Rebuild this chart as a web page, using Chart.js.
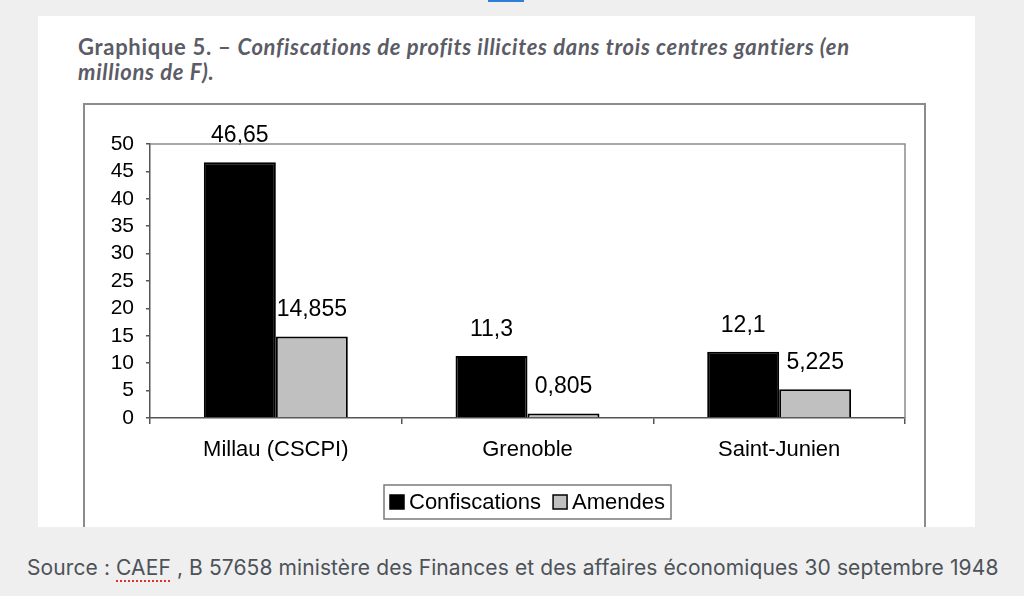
<!DOCTYPE html>
<html lang="fr">
<head>
<meta charset="utf-8">
<title>Graphique 5</title>
<script src="https://cdn.jsdelivr.net/npm/chart.js@4.4.1/dist/chart.umd.min.js"></script>
<style>
    html, body {
        margin: 0;
        padding: 0;
    }
    body {
        width: 1024px;
        height: 596px;
        background: #efefef;
        position: relative;
        overflow: hidden;
    }
    .top-mark {
        position: absolute;
        left: 488px;
        top: 0;
        width: 36px;
        height: 2px;
        background: #2f7fd8;
    }
    .card {
        position: absolute;
        left: 38px;
        top: 16px;
        width: 937px;
        height: 511px;
        background: #fff;
        overflow: hidden;
    }
    .title {
        position: absolute;
        left: 40px;
        top: 18px;
        font-family: Lato, "Open Sans", sans-serif;
        font-weight: bold;
        font-size: 22px;
        letter-spacing: 0.7px;
        line-height: 25px;
        color: #5b5c66;
        white-space: nowrap;
    }
    .title em {
        font-style: italic;
    }
    .chart-box {
        position: absolute;
        left: 45px;
        top: 87px;
        width: 839px;
        height: 460px;
        border: 2px solid #8c8c8c;
    }
    .chart-box canvas {
        display: block;
    }
    .source {
        position: absolute;
        left: 27px;
        top: 555px;
        font-family: Inter, "Noto Sans", sans-serif;
        font-size: 21px;
        letter-spacing: 0.1px;
        color: #4d5259;
        white-space: nowrap;
    }
    .source .spell {
        text-decoration: underline dotted #e0302a;
        text-decoration-thickness: 2px;
        text-underline-offset: 5px;
    }
</style>
</head>
<body>
<div class="top-mark"></div>
<div class="card">
    <div class="title">Graphique 5. – <em>Confiscations de profits illicites dans trois centres gantiers (en<br>millions de F).</em></div>
    <div class="chart-box">
        <canvas class="my-chart" width="839" height="422"></canvas>
    </div>
</div>
<div class="source">Source : <span class="spell">CAEF</span> , B 57658 ministère des Finances et des affaires économiques 30 septembre 1948</div>

<script>
const myChart = document.querySelector('.my-chart');

const categories = ['Millau (CSCPI)', 'Grenoble', 'Saint-Junien'];
const confiscations = [46.65, 11.3, 12.1];
const amendes = [14.855, 0.805, 5.225];
const yTicks = [0, 5, 10, 15, 20, 25, 30, 35, 40, 45, 50];

const chartFont = '"Liberation Sans", Arial, sans-serif';

function frNumber(v) {
    return String(v).replace('.', ',');
}

// top and right edge of the plot area
const plotFrame = {
    id: 'plotFrame',
    afterDraw(chart) {
        const { ctx, chartArea: a } = chart;
        ctx.save();
        ctx.strokeStyle = '#8c8c8c';
        ctx.lineWidth = 1.5;
        ctx.beginPath();
        ctx.moveTo(a.left, a.top);
        ctx.lineTo(a.right, a.top);
        ctx.lineTo(a.right, a.bottom);
        ctx.stroke();
        ctx.restore();
    }
};

// value above every bar, french decimal comma
const valueLabels = {
    id: 'valueLabels',
    afterDatasetsDraw(chart) {
        const ctx = chart.ctx;
        ctx.save();
        ctx.font = '23px ' + chartFont;
        ctx.fillStyle = '#000';
        ctx.textAlign = 'center';
        ctx.textBaseline = 'bottom';
        chart.data.datasets.forEach((ds, i) => {
            chart.getDatasetMeta(i).data.forEach((bar, j) => {
                ctx.fillText(frNumber(ds.data[j]), bar.x, bar.y - 15);
            });
        });
        ctx.restore();
    }
};

// boxed legend under the category labels
const boxLegend = {
    id: 'boxLegend',
    afterDraw(chart) {
        const { ctx, chartArea: a } = chart;
        const sets = chart.data.datasets;
        ctx.save();
        ctx.font = '22px ' + chartFont;
        const sq = 14, gap = 5, sep = 12, padX = 6;
        let w = padX * 2;
        sets.forEach((ds, i) => {
            w += sq + gap + ctx.measureText(ds.label).width;
            if (i < sets.length - 1) w += sep;
        });
        const h = 34;
        const x0 = Math.round((a.left + a.right) / 2 - w / 2);
        const y0 = 380;
        ctx.strokeStyle = '#7a7a7a';
        ctx.lineWidth = 1.5;
        ctx.strokeRect(x0, y0, w, h);
        let x = x0 + padX;
        const cy = y0 + h / 2;
        ctx.textBaseline = 'middle';
        sets.forEach((ds) => {
            ctx.fillStyle = ds.backgroundColor;
            ctx.fillRect(x, cy - sq / 2, sq, sq);
            ctx.strokeStyle = '#000';
            ctx.lineWidth = 1.5;
            ctx.strokeRect(x, cy - sq / 2, sq, sq);
            x += sq + gap;
            ctx.fillStyle = '#000';
            ctx.fillText(ds.label, x, cy + 1);
            x += ctx.measureText(ds.label).width + sep;
        });
        ctx.restore();
    }
};

new Chart(myChart, {
    type: 'bar',
    data: {
        labels: categories,
        datasets: [{
            label: 'Confiscations',
            data: confiscations,
            backgroundColor: '#000000',
            borderColor: '#000000',
            borderWidth: 2
        }, {
            label: 'Amendes',
            data: amendes,
            backgroundColor: '#c0c0c0',
            borderColor: '#000000',
            borderWidth: 2
        }]
    },
    options: {
        responsive: false,
        animation: false,
        categoryPercentage: 0.572,
        barPercentage: 1.0,
        layout: {
            padding: { left: 0, top: 39, right: 19, bottom: 0 }
        },
        plugins: {
            legend: { display: false },
            tooltip: { enabled: false }
        },
        scales: {
            x: {
                afterFit(scale) { scale.height = 109; },
                grid: {
                    drawOnChartArea: false,
                    tickLength: 6,
                    color: '#555',
                    lineWidth: 1.5
                },
                border: { color: '#555', width: 1.5 },
                ticks: {
                    padding: 13,
                    color: '#000',
                    font: { family: chartFont, size: 22 }
                }
            },
            y: {
                min: 0,
                max: 50,
                afterFit(scale) { scale.width = 65; },
                afterBuildTicks(scale) {
                    scale.ticks = yTicks.map(v => ({ value: v }));
                },
                grid: {
                    drawOnChartArea: false,
                    tickLength: 4,
                    color: '#555',
                    lineWidth: 1.5
                },
                border: { color: '#555', width: 1.5 },
                ticks: {
                    autoSkip: false,
                    padding: 12,
                    color: '#000',
                    font: { family: chartFont, size: 21 },
                    callback: (v) => frNumber(v)
                }
            }
        }
    },
    plugins: [plotFrame, valueLabels, boxLegend]
});
</script>
</body>
</html>
